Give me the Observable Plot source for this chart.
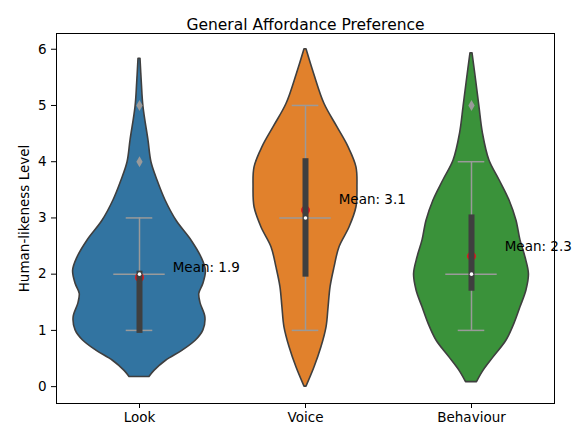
<!DOCTYPE html>
<html><head><meta charset="utf-8">
<script src="https://cdn.jsdelivr.net/npm/d3@7"></script>
<script src="https://cdn.jsdelivr.net/npm/@observablehq/plot@0.6"></script>
<style>html,body{margin:0;padding:0;background:#fff}</style>
</head><body><div id="chart"></div>
<script>
// Categories and tick labels
const categories = ["Look", "Voice", "Behaviour"];
const yTicks = [0, 1, 2, 3, 4, 5, 6];
const title = "General Affordance Preference";
const yLabel = "Human-likeness Level";

// Violin density profiles: [level, half-width in category units]
const lookProfile = [
  [0.17, 0.060], [0.28, 0.090], [0.46, 0.160], [0.64, 0.260], [0.82, 0.340],
  [1.00, 0.385], [1.23, 0.397], [1.48, 0.368], [1.65, 0.360], [1.83, 0.385],
  [2.06, 0.400], [2.30, 0.373], [2.60, 0.313], [2.95, 0.223], [3.31, 0.157],
  [3.67, 0.108], [3.99, 0.072], [4.38, 0.054], [4.97, 0.024], [5.40, 0.014], [5.83, 0.006]
];
const voiceProfile = [
  [0.00, 0.006], [0.34, 0.054], [0.70, 0.096], [1.06, 0.127], [1.41, 0.139],
  [1.77, 0.151], [2.12, 0.175], [2.48, 0.205], [2.83, 0.265], [3.19, 0.307],
  [3.55, 0.313], [3.90, 0.307], [4.26, 0.259], [4.61, 0.193], [5.03, 0.114],
  [5.56, 0.052], [6.00, 0.006]
];
const behaviourProfile = [
  [0.08, 0.033], [0.28, 0.072], [0.52, 0.133], [0.82, 0.211], [1.12, 0.259],
  [1.41, 0.295], [1.71, 0.331], [2.00, 0.346], [2.30, 0.325], [2.60, 0.295],
  [2.95, 0.271], [3.31, 0.229], [3.67, 0.169], [4.02, 0.108], [4.50, 0.069],
  [4.97, 0.048], [5.44, 0.028], [5.93, 0.006]
];

// Box statistics
const q1 = [1, 2, 1.75];
const medians = [2, 3, 2];
const q3 = [2, 4, 3];
const whiskerLow = [1, 1, 1];
const whiskerHigh = [3, 5, 4];
const means = [1.94, 3.14, 2.32];
const meanLabels = ["Mean: 1.9", "Mean: 3.1", "Mean: 2.3"];
const outlierCat = [0, 0, 2];
const outlierValue = [4, 5, 5];

// Styles
const colors = ["#3274a1", "#e1812c", "#3a923a"];
const edge = "#3f3f3f";
const grey = "#9a9a9a";

const profiles = [lookProfile, voiceProfile, behaviourProfile];
const idx = categories.map((_, i) => i);
const outliers = outlierCat.map((c, k) => ({c, v: outlierValue[k]}));

const marks = [];
profiles.forEach((prof, i) => {
  marks.push(Plot.areaX(prof, {
    y: d => d[0], x1: d => i - d[1], x2: d => i + d[1],
    fill: colors[i], stroke: edge, strokeWidth: 1.6, curve: "catmull-rom"
  }));
});
marks.push(
  Plot.ruleX(idx, {x: i => i, y1: i => whiskerLow[i], y2: i => whiskerHigh[i], stroke: grey, strokeWidth: 1.5}),
  Plot.ruleY(idx, {y: i => whiskerHigh[i], x1: i => i - 0.08, x2: i => i + 0.08, stroke: grey, strokeWidth: 1.5}),
  Plot.ruleY(idx, {y: i => whiskerLow[i], x1: i => i - 0.08, x2: i => i + 0.08, stroke: grey, strokeWidth: 1.5}),
  Plot.ruleY(idx, {y: i => medians[i], x1: i => i - 0.155, x2: i => i + 0.155, stroke: grey, strokeWidth: 1.5}),
  Plot.dot(outliers, {x: "c", y: "v", symbol: "diamond", r: 3.3, fill: grey, stroke: "none"}),
  Plot.dot(idx, {x: i => i, y: i => means[i], r: 4.5, fill: "#e8141a", stroke: "none"}),
  Plot.ruleX(idx, {x: i => i, y1: i => q1[i], y2: i => q3[i], stroke: edge, strokeWidth: 6, strokeLinecap: "square"}),
  Plot.dot(idx, {x: i => i, y: i => medians[i], r: 1.8, fill: "white", stroke: "none"}),
  Plot.text(idx, {x: i => i + 0.2, y: i => means[i] + 0.1, text: i => meanLabels[i], textAnchor: "start", lineAnchor: "bottom", fontSize: 13.5, fill: "black"}),
  Plot.axisY({ticks: yTicks, tickFormat: "d", tickSize: 5, tickPadding: 5, label: null, fontSize: 13.5}),
  Plot.axisX({ticks: idx, tickFormat: i => categories[i], tickSize: 5, tickPadding: 4, label: null, fontSize: 13.5}),
  Plot.frame({stroke: "black", strokeWidth: 1}),
  Plot.text([title], {frameAnchor: "top", dy: -15, fontSize: 15.5, fill: "black", text: d => d}),
  Plot.text([yLabel], {frameAnchor: "left", dx: -32, rotate: -90, textAnchor: "middle", fontSize: 13.5, fill: "black", text: d => d})
);

const chart = Plot.plot({
  width: 580,
  height: 428,
  marginLeft: 56,
  marginRight: 26,
  marginTop: 33,
  marginBottom: 25,
  style: {fontFamily: "DejaVu Sans", fontSize: "13.5px", color: "black", background: "white"},
  x: {domain: [-0.5, 2.5]},
  y: {domain: [-0.3, 6.28]},
  marks
});
document.getElementById("chart").appendChild(chart);
</script>
</body></html>
